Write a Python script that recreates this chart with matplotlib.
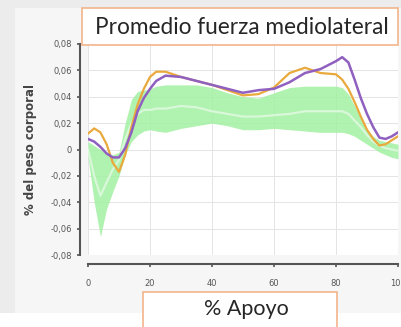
import matplotlib
matplotlib.use("Agg")
import matplotlib.pyplot as plt
from matplotlib.patches import Rectangle

# % of stance phase
apoyo = [0, 2, 4, 6, 8, 10, 12, 14, 16, 18, 20, 22, 25, 30, 35, 40, 45, 50, 55,
         60, 65, 70, 75, 80, 82, 84, 86, 88, 90, 92, 94, 96, 98, 100]

purple = [0.008, 0.006, 0.002, -0.003, -0.006, -0.006, 0.001, 0.013, 0.029, 0.039,
          0.046, 0.052, 0.056, 0.055, 0.052, 0.049, 0.046, 0.043, 0.045, 0.046,
          0.051, 0.058, 0.061, 0.067, 0.070, 0.066, 0.053, 0.039, 0.027, 0.017,
          0.009, 0.008, 0.010, 0.013]

orange = [0.012, 0.016, 0.013, 0.004, -0.010, -0.017, -0.004, 0.017, 0.034, 0.046,
          0.055, 0.059, 0.059, 0.055, 0.052, 0.049, 0.045, 0.041, 0.042, 0.047,
          0.058, 0.062, 0.058, 0.057, 0.053, 0.046, 0.036, 0.025, 0.015, 0.008,
          0.003, 0.004, 0.007, 0.010]

norm_mean = [0.000, -0.020, -0.035, -0.025, -0.015, -0.008, 0.008, 0.020, 0.027, 0.030,
             0.030, 0.031, 0.031, 0.033, 0.032, 0.029, 0.027, 0.025, 0.025, 0.026,
             0.027, 0.029, 0.029, 0.029, 0.029, 0.027, 0.022, 0.017, 0.011, 0.006,
             0.003, 0.001, 0.000, -0.001]

norm_upper = [0.006, 0.003, 0.000, -0.003, -0.004, -0.002, 0.020, 0.038, 0.044, 0.045,
              0.046, 0.048, 0.049, 0.049, 0.049, 0.047, 0.043, 0.040, 0.039, 0.043,
              0.047, 0.048, 0.048, 0.048, 0.047, 0.042, 0.033, 0.024, 0.015, 0.010,
              0.007, 0.006, 0.005, 0.004]

norm_lower = [-0.006, -0.040, -0.066, -0.045, -0.032, -0.020, -0.004, 0.006, 0.011, 0.014,
              0.015, 0.014, 0.013, 0.016, 0.018, 0.020, 0.018, 0.015, 0.015, 0.016,
              0.015, 0.014, 0.013, 0.013, 0.013, 0.012, 0.010, 0.007, 0.004, 0.001,
              -0.002, -0.004, -0.006, -0.007]

xticks = [0, 20, 40, 60, 80, 100]
yticks = [-0.08, -0.06, -0.04, -0.02, 0, 0.02, 0.04, 0.06, 0.08]
yticklabels = ["-0,08", "-0,06", "-0,04", "-0,02", "0", "0,02", "0,04", "0,06", "0,08"]

W, H = 401, 327
fig = plt.figure(figsize=(W / 100, H / 100), dpi=100, facecolor="white")

# grey slide background with a lighter inner panel
fig.patches.append(Rectangle((0, 1 - 313 / H), 1, 313 / H, transform=fig.transFigure,
                             facecolor="#ececec", edgecolor="none", zorder=-2))
fig.patches.append(Rectangle((15 / W, 1 - 313 / H), 1, 305 / H, transform=fig.transFigure,
                             facecolor="#f6f6f6", edgecolor="none", zorder=-1))

ax = fig.add_axes([88 / W, 1 - 255 / H, 310 / W, 211 / H])
ax.set_facecolor("white")

ax.fill_between(apoyo, norm_lower, norm_upper, color="#a3f0a3", alpha=0.85, lw=0, zorder=2)
ax.plot(apoyo, norm_mean, color="#d9f7d9", lw=1.6, zorder=3)
ax.plot(apoyo, orange, color="#e9a93c", lw=1.6, zorder=4)
ax.plot(apoyo, purple, color="#9060c0", lw=1.8, zorder=5)

ax.set_xlim(0, 100)
ax.set_ylim(-0.08, 0.08)
ax.set_xticks(xticks)
ax.set_yticks(yticks)
ax.set_yticklabels(yticklabels)
ax.grid(True, color="#e4e4e4", lw=0.7, zorder=0)

for side in ("top", "right"):
    ax.spines[side].set_visible(False)
ax.spines["left"].set_position(("outward", 6))
ax.spines["bottom"].set_position(("outward", 6.5))
for side in ("left", "bottom"):
    ax.spines[side].set_color("#555555")
    ax.spines[side].set_linewidth(1.5)
ax.tick_params(axis="both", length=2.5, width=1.2, color="#555555",
               labelsize=6, labelcolor="#555555")
ax.tick_params(axis="x", pad=8)
ax.tick_params(axis="y", pad=3)

ax.set_ylabel("% del peso corporal", fontsize=8.5, fontweight="bold", color="#444444",
              labelpad=10)

# title box
fig.patches.append(Rectangle((82 / W, 1 - 45 / H), 316 / W, 37 / H, transform=fig.transFigure,
                             facecolor="white", edgecolor="#f2b48a", lw=1.2, zorder=5))
fig.text(242 / W, 1 - 27 / H, "Promedio fuerza mediolateral", ha="center", va="center",
         fontsize=16.3, family="Lato", color="#262626", zorder=6)

# x label box
fig.patches.append(Rectangle((143 / W, 1 - 340 / H), 194 / W, 48 / H, transform=fig.transFigure,
                             facecolor="white", edgecolor="#f2b48a", lw=1.2, zorder=5))
fig.text(246 / W, 1 - 309 / H, "% Apoyo", ha="center", va="center",
         fontsize=15.5, family="Lato", color="#262626", zorder=6)

fig.savefig("out.png", dpi=100, facecolor=fig.get_facecolor())
